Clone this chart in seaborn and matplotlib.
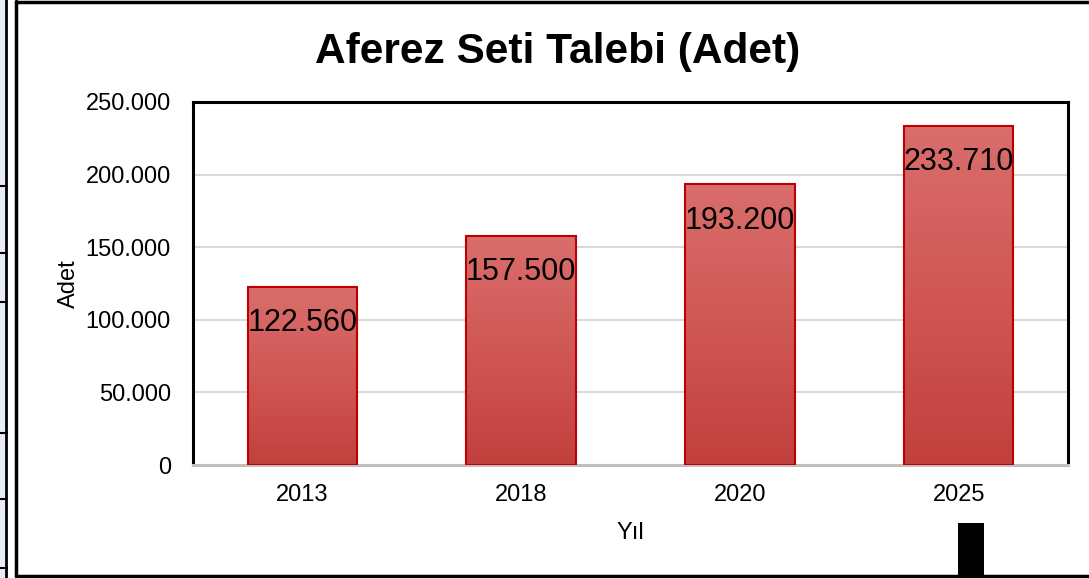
import matplotlib
matplotlib.use("Agg")
import matplotlib.pyplot as plt
import matplotlib.ticker as mticker
from matplotlib.patches import Rectangle
from matplotlib.lines import Line2D
import numpy as np
import pandas as pd
import seaborn as sns

years = ["2013", "2018", "2020", "2025"]
values = [122560, 157500, 193200, 233710]
value_labels = ["122.560", "157.500", "193.200", "233.710"]
title = "Aferez Seti Talebi (Adet)"
x_label = "Yıl"
y_label = "Adet"

df = pd.DataFrame({"Yıl": years, "Adet": values})

sns.set_theme(style="white")
plt.rcParams["font.family"] = ["Liberation Sans", "DejaVu Sans"]

W, H = 1089, 578
fig = plt.figure(figsize=(W / 100, H / 100), dpi=100)
ax = fig.add_axes([193 / W, 1 - 465 / H, (1068 - 193) / W, (465 - 102) / H])

sns.barplot(data=df, x="Yıl", y="Adet", order=years, color="#cf5453",
            width=0.5, edgecolor="#c00000", linewidth=1.5, ax=ax, zorder=3)

ax.set_ylim(0, 250000)
ax.yaxis.set_major_locator(mticker.MultipleLocator(50000))
ax.yaxis.set_major_formatter(mticker.FuncFormatter(
    lambda v, p: f"{int(v):,}".replace(",", ".")))
ax.grid(axis="y", color="#d9d9d9", linewidth=1.5, zorder=0)
ax.set_axisbelow(True)

# gradient fill clipped to each bar
grad = np.linspace(0, 1, 256).reshape(-1, 1)
cmap = matplotlib.colors.LinearSegmentedColormap.from_list(
    "bar", ["#c2403e", "#d05755", "#d96e6c"])
for patch in ax.patches:
    bb = patch.get_bbox()
    im = ax.imshow(grad, cmap=cmap, origin="lower", aspect="auto",
                   extent=[bb.x0, bb.x1, bb.y0, bb.y1], zorder=2.9,
                   interpolation="bilinear")
    im.set_clip_path(patch)
    patch.set_facecolor("none")
ax.set_xlim(-0.5, len(years) - 0.5)
ax.set_ylim(0, 250000)

for i, (v, lab) in enumerate(zip(values, value_labels)):
    ax.annotate(lab, xy=(i, v), xytext=(0, -26), textcoords="offset points",
                ha="center", va="center", fontsize=22, color="black", zorder=5)

for side in ["left", "top", "right"]:
    ax.spines[side].set_color("black")
    ax.spines[side].set_linewidth(2.2)
ax.spines["bottom"].set_color("#bfbfbf")
ax.spines["bottom"].set_linewidth(2.2)

ax.tick_params(axis="both", length=0, labelsize=17, colors="black")
ax.tick_params(axis="y", pad=16)
ax.tick_params(axis="x", pad=14)
ax.set_xlabel(x_label, fontsize=17, labelpad=11, color="black")
ax.set_ylabel(y_label, fontsize=17, labelpad=4, color="black")

fig.text(558 / W, 1 - 52 / H, title, ha="center", va="center",
         fontsize=30.5, fontweight="bold", color="black")

# outer frame and slide artifacts
ft = fig.transFigure
fig.patches.append(Rectangle((0, 0), 5 / W, 1, transform=ft,
                             facecolor="#e8ecf5", edgecolor="none"))
fig.lines.append(Line2D([6 / W, 6 / W], [0, 1], transform=ft, color="black", lw=2))
fig.lines.append(Line2D([16 / W, 16 / W], [1 - 576 / H, 1 - 1 / H], transform=ft,
                        color="black", lw=2.5))
fig.lines.append(Line2D([16 / W, 1], [1 - 1.5 / H, 1 - 1.5 / H], transform=ft,
                        color="black", lw=2.5))
fig.lines.append(Line2D([16 / W, 1], [1 - 575.5 / H, 1 - 575.5 / H], transform=ft,
                        color="black", lw=2.5))
for yy in [186, 253, 302, 433, 499, 568]:
    fig.lines.append(Line2D([0, 7 / W], [1 - yy / H, 1 - yy / H], transform=ft,
                            color="black", lw=1.5))
fig.patches.append(Rectangle((958 / W, 0), 26 / W, 55 / H, transform=ft,
                             facecolor="black", edgecolor="none"))

fig.savefig("out.png", dpi=100, facecolor="white")
